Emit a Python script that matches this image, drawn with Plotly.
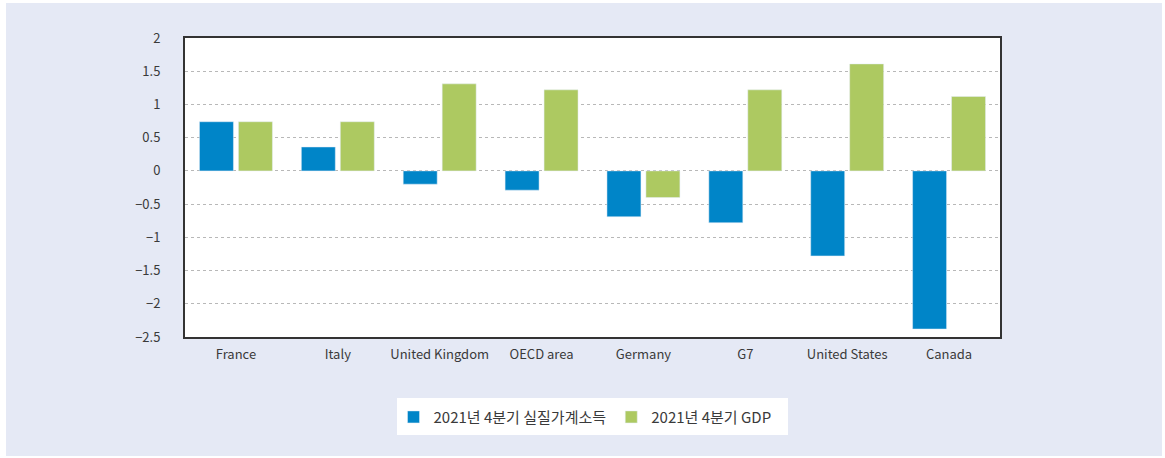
import plotly.graph_objects as go

categories = ["France", "Italy", "United Kingdom", "OECD area", "Germany", "G7", "United States", "Canada"]
income = [0.74, 0.36, -0.20, -0.29, -0.69, -0.78, -1.28, -2.38]
gdp = [0.74, 0.74, 1.31, 1.22, -0.40, 1.22, 1.61, 1.12]
series_names = ["2021년 4분기 실질가계소득", "2021년 4분기 GDP"]
y_ticks = [2, 1.5, 1, 0.5, 0, -0.5, -1, -1.5, -2, -2.5]

BLUE = "#0085c8"
GREEN = "#adc961"
TEXT = "#3a3a3a"
FONT = "Noto Sans CJK KR, Noto Sans, sans-serif"

fig = go.Figure()
fig.add_trace(go.Bar(x=categories, y=income, name=series_names[0], marker_color=BLUE))
fig.add_trace(go.Bar(x=categories, y=gdp, name=series_names[1], marker_color=GREEN))

fig.update_layout(
    width=1165, height=458,
    margin=dict(l=185, r=165, t=38, b=121),
    paper_bgcolor="white",
    plot_bgcolor="white",
    barmode="group",
    bargap=0.235,
    bargroupgap=0.128,
    font=dict(family=FONT, size=13, color=TEXT),
    showlegend=True,
    legend=dict(
        orientation="h", x=0.4908, xanchor="center", y=-0.213, yanchor="top",
        bgcolor="rgba(0,0,0,0)", font=dict(size=15, color=TEXT), borderwidth=0,
        itemwidth=30,
    ),
    shapes=[
        dict(type="rect", xref="paper", yref="paper", x0=-0.2196, x1=1.1988, y0=-0.398, y1=1.117,
             fillcolor="#e5e9f5", line_width=0, layer="below"),
        dict(type="rect", xref="paper", yref="paper", x0=0, x1=1, y0=0, y1=1,
             fillcolor="white", line_width=0, layer="below"),
        dict(type="rect", xref="paper", yref="paper", x0=0.2601, x1=0.7399, y0=-0.3278, y1=-0.204,
             fillcolor="white", line_width=0, layer="below"),
    ],
)
fig.update_xaxes(
    showline=True, linecolor="#333333", linewidth=2, mirror=True,
    showgrid=False, ticks="", ticklabelstandoff=4,
    tickfont=dict(size=13, color=TEXT),
)
fig.update_yaxes(
    range=[-2.5, 2], tickvals=y_ticks,
    showline=True, linecolor="#333333", linewidth=2, mirror=True,
    showgrid=True, gridcolor="#b8b8b8", griddash="dot", gridwidth=1,
    zeroline=False, ticks="", ticklabelstandoff=20,
    tickfont=dict(size=13, color=TEXT),
)

fig.write_html("out.html", config={"displayModeBar": False},
               post_script="document.body.style.margin='0';")
